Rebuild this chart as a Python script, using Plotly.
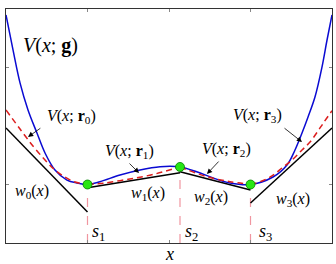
import plotly.graph_objects as go

# ---- data (x in [0,4], y in [0,2]) ----
breaks_x = [1.0, 2.135, 3.0]
breaks_y = [0.5, 0.65, 0.5]

blue_x = [0.0, 0.086, 0.172, 0.270, 0.380, 0.479, 0.601, 0.748, 0.871, 1.0,
          1.153, 1.399, 1.644, 1.890, 2.135, 2.340, 2.540, 2.748, 3.0,
          3.276, 3.448, 3.546, 3.632, 3.706, 3.791, 3.877, 3.939, 4.0]
blue_y = [1.949, 1.650, 1.368, 1.137, 0.940, 0.769, 0.624, 0.538, 0.513, 0.5,
          0.524, 0.581, 0.624, 0.652, 0.65, 0.609, 0.556, 0.513, 0.5,
          0.564, 0.667, 0.795, 0.940, 1.077, 1.248, 1.504, 1.735, 1.949]

r0_x = [0.0, 0.172, 0.331, 0.479, 0.601, 0.724, 0.847, 1.0]
r0_y = [1.137, 0.974, 0.829, 0.709, 0.624, 0.564, 0.521, 0.5]
r1_x = [1.0, 1.2, 1.5, 1.8, 2.135]
r1_y = [0.5, 0.512, 0.545, 0.585, 0.65]
r2_x = [2.135, 2.463, 2.748, 3.0]
r2_y = [0.65, 0.567, 0.524, 0.5]
r3_x = [3.0, 3.141, 3.264, 3.387, 3.509, 3.632, 3.730, 3.828, 3.902, 4.0]
r3_y = [0.5, 0.530, 0.573, 0.641, 0.709, 0.795, 0.863, 0.957, 1.034, 1.130]

w0_x, w0_y = [0.0, 1.0], [0.983, 0.265]
w1_x, w1_y = [1.0, 2.135], [0.473, 0.601]
w2_x, w2_y = [2.135, 3.0], [0.609, 0.453]
w3_x, w3_y = [3.0, 4.0], [0.342, 0.983]

x_ticks = [1, 2, 3]
y_ticks = [0.5, 1.5]

SERIF = "Liberation Serif"

fig = go.Figure()

# vertical dashed lines at breakpoints
for bx, by in zip(breaks_x, breaks_y):
    fig.add_trace(go.Scatter(x=[bx, bx], y=[0, by], mode="lines",
                             line=dict(color="rgb(240,150,160)", width=1.2, dash="dash"),
                             hoverinfo="skip", showlegend=False))

# black piecewise lines
for wx, wy in [(w0_x, w0_y), (w1_x, w1_y), (w2_x, w2_y), (w3_x, w3_y)]:
    fig.add_trace(go.Scatter(x=wx, y=wy, mode="lines",
                             line=dict(color="black", width=1.5),
                             showlegend=False))

# blue curve
fig.add_trace(go.Scatter(x=blue_x, y=blue_y, mode="lines",
                         line=dict(color="rgb(10,10,210)", width=1.5, shape="spline"),
                         showlegend=False))

# red dashed curves
for rx, ry in [(r0_x, r0_y), (r1_x, r1_y), (r2_x, r2_y), (r3_x, r3_y)]:
    fig.add_trace(go.Scatter(x=rx, y=ry, mode="lines",
                             line=dict(color="rgb(220,30,30)", width=1.5, dash="6px,4px",
                                       shape="spline"),
                             showlegend=False))

# green points
fig.add_trace(go.Scatter(x=breaks_x, y=breaks_y, mode="markers",
                         marker=dict(color="rgb(40,230,20)", size=9,
                                     line=dict(color="rgb(0,130,0)", width=0.8)),
                         showlegend=False))

def lbl(x, y, text, size=14):
    fig.add_annotation(x=x, y=y, text=text, showarrow=False,
                       font=dict(family=SERIF, size=size, color="black"))

def arrow(x0, y0, x1, y1):
    fig.add_annotation(x=x1, y=y1, ax=x0, ay=y0, axref="x", ayref="y",
                       xref="x", yref="y", text="", showarrow=True,
                       arrowhead=2, arrowsize=1.3, arrowwidth=0.8, arrowcolor="black")

lbl(0.54, 1.69, "<i>V</i>(<i>x</i>; <b>g</b>)", 20)
lbl(0.80, 1.077, "<i>V</i>(<i>x</i>; <b>r</b><sub>0</sub>)", 16)
lbl(1.52, 0.778, "<i>V</i>(<i>x</i>; <b>r</b><sub>1</sub>)", 16)
lbl(2.70, 0.795, "<i>V</i>(<i>x</i>; <b>r</b><sub>2</sub>)", 16)
lbl(3.09, 1.094, "<i>V</i>(<i>x</i>; <b>r</b><sub>3</sub>)", 16)
arrow(0.44, 0.99, 0.27, 0.906)
arrow(1.497, 0.692, 1.632, 0.598)
arrow(2.626, 0.709, 2.466, 0.590)
arrow(3.399, 0.991, 3.632, 0.863)

lbl(0.32, 0.436, "<i>w</i><sub>0</sub>(<i>x</i>)", 16)
lbl(1.74, 0.427, "<i>w</i><sub>1</sub>(<i>x</i>)", 16)
lbl(2.515, 0.393, "<i>w</i><sub>2</sub>(<i>x</i>)", 16)
lbl(3.52, 0.376, "<i>w</i><sub>3</sub>(<i>x</i>)", 16)

lbl(1.13, 0.09, "<i>s</i><sub>1</sub>", 18)
lbl(2.28, 0.09, "<i>s</i><sub>2</sub>", 18)
lbl(3.18, 0.09, "<i>s</i><sub>3</sub>", 18)

fig.add_annotation(x=0.5, y=0, xref="paper", yref="paper", yanchor="middle",
                   yshift=-11, text="<i>x</i>", showarrow=False,
                   font=dict(family=SERIF, size=18, color="black"))

axis_common = dict(showgrid=False, zeroline=False, showline=True, linecolor="#333",
                   linewidth=1, mirror="ticks", ticks="inside", ticklen=3,
                   tickcolor="#888", showticklabels=False)
fig.update_xaxes(range=[0, 4], tickvals=x_ticks, **axis_common)
fig.update_yaxes(range=[0, 2], tickvals=y_ticks, **axis_common)

fig.update_layout(width=336, height=264, margin=dict(l=6, r=4, t=9, b=21),
                  paper_bgcolor="white", plot_bgcolor="white", showlegend=False)

fig.write_html("out.html", config={"displayModeBar": False},
               post_script="document.body.style.margin='0';document.body.style.overflow='hidden';")
